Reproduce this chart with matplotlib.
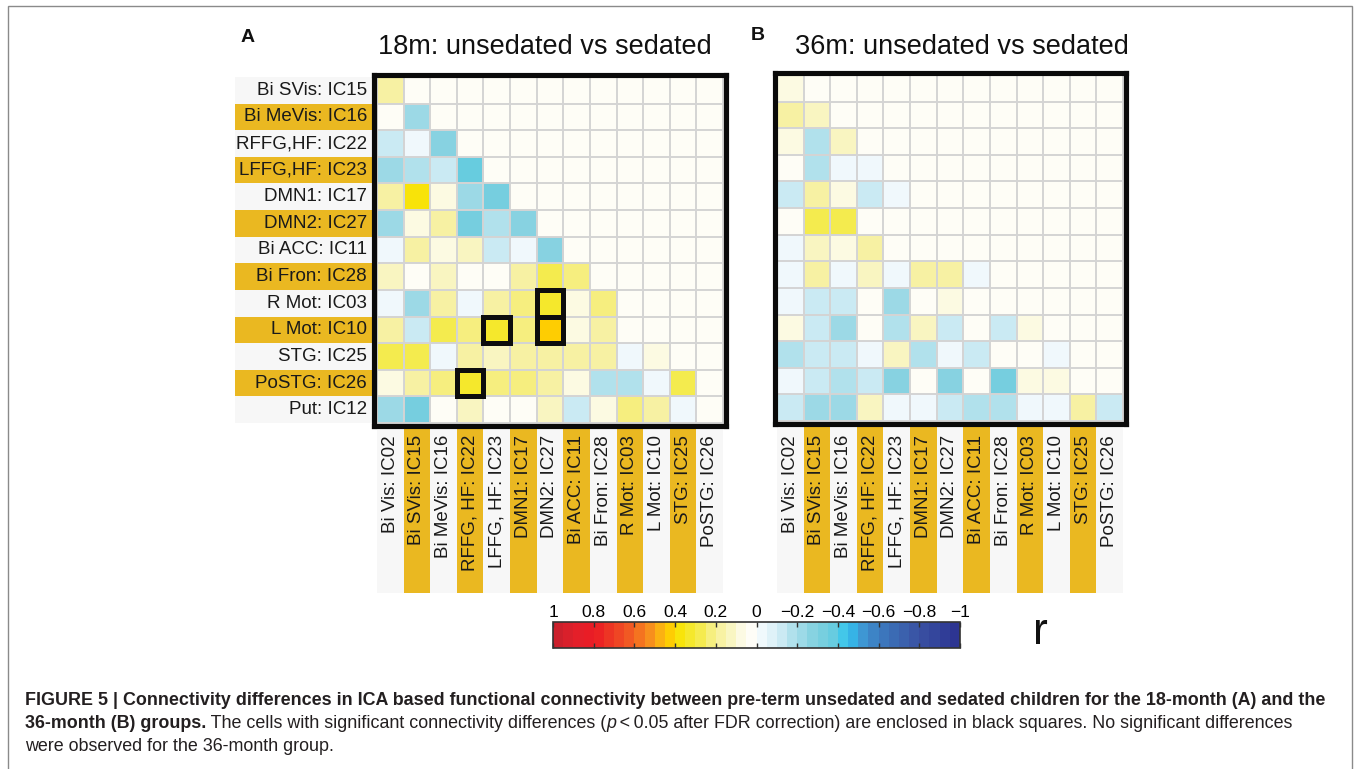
import numpy as np
import matplotlib
matplotlib.use("Agg")
import matplotlib.pyplot as plt
from matplotlib.colors import LinearSegmentedColormap, ListedColormap, BoundaryNorm
from matplotlib.patches import Rectangle
import matplotlib.colorbar as mcolorbar

# ---------------- data ----------------
row_labels = ["Bi SVis: IC15", "Bi MeVis: IC16", "RFFG,HF: IC22", "LFFG,HF: IC23",
              "DMN1: IC17", "DMN2: IC27", "Bi ACC: IC11", "Bi Fron: IC28",
              "R Mot: IC03", "L Mot: IC10", "STG: IC25", "PoSTG: IC26", "Put: IC12"]
col_labels = ["Bi Vis: IC02", "Bi SVis: IC15", "Bi MeVis: IC16", "RFFG, HF: IC22",
              "LFFG, HF: IC23", "DMN1: IC17", "DMN2: IC27", "Bi ACC: IC11",
              "Bi Fron: IC28", "R Mot: IC03", "L Mot: IC10", "STG: IC25", "PoSTG: IC26"]

r18 = [
    [0.20],
    [0.00, -0.22],
    [-0.10, -0.03, -0.28],
    [-0.22, -0.15, -0.10, -0.38],
    [0.20, 0.38, 0.10, -0.22, -0.33],
    [-0.22, 0.10, 0.20, -0.33, -0.15, -0.28],
    [-0.03, 0.20, 0.10, 0.15, -0.10, -0.03, -0.28],
    [0.15, 0.00, 0.15, 0.00, 0.00, 0.20, 0.30, 0.22],
    [-0.03, -0.22, 0.18, -0.03, 0.18, 0.22, 0.33, 0.10, 0.22],
    [0.20, -0.10, 0.30, 0.23, 0.33, 0.22, 0.42, 0.10, 0.20, 0.00],
    [0.27, 0.30, -0.03, 0.18, 0.15, 0.20, 0.20, 0.18, 0.20, -0.03, 0.08],
    [0.08, 0.18, 0.23, 0.33, 0.22, 0.22, 0.20, 0.10, -0.15, -0.15, -0.03, 0.27],
    [-0.22, -0.30, 0.00, 0.15, 0.00, 0.00, 0.13, -0.10, 0.08, 0.22, 0.20, -0.03, 0.00],
]
r36 = [
    [0.08],
    [0.20, 0.15],
    [0.08, -0.15, 0.15],
    [0.00, -0.15, -0.03, -0.03],
    [-0.10, 0.18, 0.08, -0.10, -0.03],
    [0.00, 0.27, 0.27, 0.00, 0.00, 0.00],
    [-0.03, 0.15, 0.08, 0.20, 0.00, 0.00, 0.00],
    [-0.03, 0.20, -0.03, 0.15, -0.03, 0.20, 0.20, -0.03],
    [-0.03, -0.10, -0.10, 0.00, -0.22, 0.00, 0.08, 0.00, 0.00],
    [0.08, -0.10, -0.22, 0.00, -0.15, 0.15, -0.10, 0.00, -0.10, 0.08],
    [-0.15, -0.10, -0.10, -0.03, 0.15, -0.15, -0.03, -0.10, 0.00, 0.00, -0.03],
    [-0.03, -0.10, -0.15, -0.10, -0.28, 0.00, -0.28, 0.00, -0.33, 0.08, 0.08, 0.00],
    [-0.10, -0.22, -0.22, 0.15, -0.03, -0.03, -0.10, -0.15, -0.15, -0.03, -0.03, 0.20, -0.10],
]
sig18 = [(8, 6), (9, 6), (9, 4), (11, 3)]   # (row, col)

cbar_ticks = [1, 0.8, 0.6, 0.4, 0.2, 0, -0.2, -0.4, -0.6, -0.8, -1]
cbar_ticklabels = ["1", "0.8", "0.6", "0.4", "0.2", "0", "\u22120.2", "\u22120.4",
                   "\u22120.6", "\u22120.8", "\u22121"]

# ---------------- colormap ----------------
anchors = [(-1.0, "#2b3190"), (-0.8, "#3a52a3"), (-0.6, "#3c7bbf"), (-0.5, "#3fa3db"),
           (-0.45, "#2dc3f1"), (-0.4, "#5ecbe0"), (-0.3, "#7fd0df"), (-0.2, "#a6dde9"),
           (-0.1, "#d5eef6"), (-0.02, "#f3fafd"), (0.0, "#ffffff"), (0.05, "#fefcf0"),
           (0.1, "#faf8d5"), (0.2, "#f7f094"), (0.3, "#f4ea3c"), (0.38, "#f8e40a"),
           (0.42, "#ffd200"), (0.5, "#f9a11b"), (0.6, "#f26522"), (0.7, "#ee3e24"),
           (0.8, "#ec1c24"), (0.9, "#e2202a"), (1.0, "#c5202d")]
base = LinearSegmentedColormap.from_list(
    "rcmap", [((v + 1) / 2, c) for v, c in anchors])
bounds = np.linspace(-1, 1, 41)
centers = (bounds[:-1] + bounds[1:]) / 2
cmap = ListedColormap([base((c + 1) / 2) for c in centers])
norm = BoundaryNorm(bounds, cmap.N)

# ---------------- figure ----------------
W, H = 1357, 769
fig = plt.figure(figsize=(W / 100, H / 100), dpi=100)
plt.rcParams["font.family"] = ["Liberation Sans", "DejaVu Sans"]


def place(x0, y0, x1, y1):
    return fig.add_axes([x0 / W, 1 - y1 / H, (x1 - x0) / W, (y1 - y0) / H])


def to_matrix(rows):
    M = np.zeros((13, 13))
    for i, r in enumerate(rows):
        M[i, :len(r)] = r
    return M


GOLD = "#eab821"
LIGHT = "#f7f7f7"
cell = 346 / 13.0
pad = 2.5 / cell


def draw_panel(x0, y0, rows, sig, show_rows):
    ax = place(x0 - 2.5, y0 - 2.5, x0 + 346 + 2.5, y0 + 346 + 2.5)
    M = to_matrix(rows)
    ax.imshow(M, cmap=cmap, norm=norm, extent=(0, 13, 13, 0),
              interpolation="nearest", aspect="auto", zorder=1)
    ax.set_xlim(-pad, 13 + pad)
    ax.set_ylim(13 + pad, -pad)
    for k in range(14):
        ax.axhline(k, color="#d4d4d4", lw=1.4, zorder=2)
        ax.axvline(k, color="#d4d4d4", lw=1.4, zorder=2)
    for s in ax.spines.values():
        s.set_linewidth(3.7)
        s.set_color("#0a0a0a")
        s.set_zorder(6)
    ax.set_xticks([])
    ax.set_yticks([])
    for (r, c) in sig:
        ax.add_patch(Rectangle((c, r), 1, 1, fill=False, ec="#0d0d0d", lw=3.6,
                               zorder=5, clip_on=False))
    # column labels
    ybot = (593 - y0) / cell
    for j, lab in enumerate(col_labels):
        ax.add_patch(Rectangle((j, 13 + pad), 1, ybot - 13 - pad,
                               fc=GOLD if j % 2 else LIGHT, ec="none",
                               clip_on=False, zorder=0))
        ax.text(j + 0.5, (435 - y0) / cell, lab, rotation=90, ha="center",
                va="top", fontsize=13.5, color="#1a1a1a", clip_on=False)
    if show_rows:
        xl = (235 - x0) / cell
        for i, lab in enumerate(row_labels):
            ax.add_patch(Rectangle((xl, i), -pad - xl, 1,
                                   fc=GOLD if i % 2 else LIGHT, ec="none",
                                   clip_on=False, zorder=0))
            ax.text((367 - x0) / cell, i + 0.5, lab, ha="right", va="center",
                    fontsize=13.5, color="#1a1a1a", clip_on=False)
    return ax


axA = draw_panel(377, 77, r18, sig18, True)
axB = draw_panel(777, 75, r36, [], False)

# titles and panel letters
fig.text(545 / W, 1 - 47 / H, "18m: unsedated vs sedated", ha="center",
         va="center", fontsize=19.5, color="#111111")
fig.text(962 / W, 1 - 47 / H, "36m: unsedated vs sedated", ha="center",
         va="center", fontsize=19.5, color="#111111")
fig.text(248 / W, 1 - 37 / H, "A", ha="center", va="center", fontsize=14,
         fontweight="bold", color="#111111")
fig.text(758 / W, 1 - 36 / H, "B", ha="center", va="center", fontsize=14,
         fontweight="bold", color="#111111")

# colorbar
cax = place(553, 622, 960, 648)
cb = mcolorbar.ColorbarBase(cax, cmap=cmap, norm=norm, orientation="horizontal",
                            ticks=cbar_ticks, boundaries=bounds)
cb.minorticks_off()
cax.invert_xaxis()
cb.set_ticklabels(cbar_ticklabels)
cax.xaxis.set_ticks_position("both")
cax.tick_params(axis="x", which="major", direction="in", length=3.5, width=1,
                color="#333333", top=True, bottom=True, labeltop=True,
                labelbottom=False, labelsize=12.5, pad=1.5)
cax.tick_params(axis="x", which="minor", length=0)
cb.outline.set_linewidth(1.2)
cb.outline.set_edgecolor("#333333")
fig.text(1040 / W, 1 - 633 / H, "r", ha="center", va="center", fontsize=32,
         color="#111111")

# frame
fig.add_artist(Rectangle((8 / W, -0.01), (1352 - 8) / W, 1.01 - 6 / H,
                         transform=fig.transFigure, fill=False, ec="#8a8a8a",
                         lw=1.0))

# caption
cap_family = ["Liberation Sans Narrow", "Liberation Sans", "DejaVu Sans"]
renderer = fig.canvas.get_renderer()
line1 = ("FIGURE 5 | Connectivity differences in ICA based functional connectivity "
         "between pre-term unsedated and sedated children for the 18-month (A) and the")
probe = fig.text(0, 0, line1, fontsize=10, fontweight="bold", family=cap_family)
wpx = probe.get_window_extent(renderer).width
probe.remove()
cap_fs = 10 * 1300.0 / wpx


def write_line(x, y, pieces):
    for txt, kw in pieces:
        t = fig.text(x / W, 1 - y / H, txt, ha="left", va="baseline",
                     fontsize=cap_fs, family=cap_family, color="#231f20", **kw)
        x += t.get_window_extent(renderer).width


write_line(25, 705, [(line1, dict(fontweight="bold"))])
write_line(25, 728, [("36-month (B) groups.", dict(fontweight="bold")),
                     (" The cells with significant connectivity differences (", {}),
                     ("p", dict(style="italic")),
                     ("\u2009<\u20090.05 after FDR correction) are enclosed in black squares. "
                      "No significant differences", {})])
write_line(25, 751, [("were observed for the 36-month group.", {})])

fig.savefig("out.png", dpi=100, facecolor="white")
